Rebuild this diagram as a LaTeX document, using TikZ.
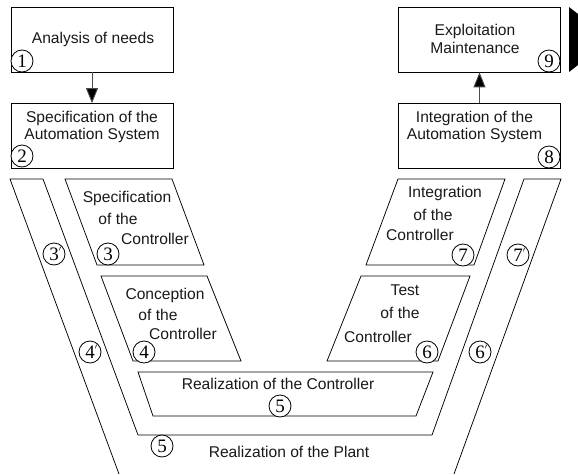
\documentclass[tikz,border=0pt]{standalone}
\usepackage{fontspec}
\setmainfont{Liberation Sans}
\newfontfamily\numfont{Liberation Serif}
\usetikzlibrary{arrows.meta}
\newcommand{\primemark}{\rlap{\raisebox{8.5pt}{\fontsize{8}{8}\selectfont$\prime$}}}
\begin{document}
\begin{tikzpicture}[x=1pt,y=-1pt,
  shapeline/.style={draw=black, line width=0.75pt},
  boxnode/.style={draw=black, line width=0.75pt, minimum width=162pt, minimum height=65pt, inner sep=0pt},
  lbl/.style={font=\fontsize{15.6}{17.5}\selectfont, text=black!90, inner sep=0pt, align=center},
  num/.style={circle, draw=black, line width=0.8pt, minimum size=22pt, inner sep=0pt, fill=white, font=\numfont\fontsize{19}{19}\selectfont},
  arr/.style={draw=black!70, line width=0.9pt, -{Triangle[length=15pt,width=12pt,fill=black]}}
]
\useasboundingbox (0,0) rectangle (578,474);

% top boxes
\node[boxnode] (b1) at (92,39.5) {};
\node[boxnode] (b2) at (92,136) {};
\node[boxnode] (b9) at (479.5,39.5) {};
\node[boxnode] (b8) at (479.5,136) {};

\node[lbl] (t1) at (93,39) {Analysis of needs};
\node[lbl] (t2) at (92,127) {Specification of the\\Automation System};
\node[lbl] (t9) at (475,39) {Exploitation\\Maintenance};
\node[lbl] (t8) at (474.5,127) {Integration of the\\Automation System};

\draw[arr] (b1.south) -- (b2.north);
\draw[arr] (b8.north) -- (b9.south);

% black mark at right edge
\fill[black] (569,7) -- (578,14) -- (578,65) -- (569,72) -- cycle;

% V band (plant)
\draw[shapeline] (119,474) -- (10,179) -- (43,179) -- (138,435) -- (432,435) -- (524,179) -- (561,179) -- (454,474);

% parallelograms
\draw[shapeline] (65,179) -- (172,179) -- (204,265) -- (97,265) -- cycle;
\draw[shapeline] (101,276) -- (207,276) -- (241,361) -- (133,361) -- cycle;
\draw[shapeline] (398,179) -- (505,179) -- (474,265) -- (366,265) -- cycle;
\draw[shapeline] (361,276) -- (470,276) -- (438,361) -- (327,361) -- cycle;
\draw[shapeline] (138,372) -- (433,372) -- (416,416) -- (153,416) -- cycle;

% texts in parallelograms
\node[lbl] (s3a) at (127,198) {Specification};
\node[lbl] (s3b) at (118,219) {of the};
\node[lbl] (s3c) at (155,239) {Controller};

\node[lbl] (s4a) at (165,295) {Conception};
\node[lbl] (s4b) at (158,315) {of the};
\node[lbl] (s4c) at (183,334) {Controller};

\node[lbl] (s7a) at (445,193) {Integration};
\node[lbl] (s7b) at (433,215) {of the};
\node[lbl] (s7c) at (420,235) {Controller};

\node[lbl] (s6a) at (405,290) {Test};
\node[lbl] (s6b) at (400,313) {of the};
\node[lbl] (s6c) at (378,337) {Controller};

\node[lbl] (s5) at (278,384) {Realization of the Controller};
\node[lbl] (s5p) at (289,452) {Realization of the Plant};

% number circles
\node[num] (n1) at (22,61) {1};
\node[num] (n2) at (22,156) {2};
\node[num] (n9) at (549,61) {9};
\node[num] (n8) at (549,157) {8};
\node[num] (n3) at (108,254) {3};
\node[num] (n3p) at (54,254) {3\primemark};
\node[num] (n4) at (144,352) {4};
\node[num] (n4p) at (90,352) {4\primemark};
\node[num] (n7) at (463,255) {7};
\node[num] (n7p) at (518,255) {7\primemark};
\node[num] (n6) at (427,352) {6};
\node[num] (n6p) at (480,352) {6\primemark};
\node[num] (n5) at (280,406) {5};
\node[num] (n5p) at (162,446) {5};
\end{tikzpicture}
\end{document}
